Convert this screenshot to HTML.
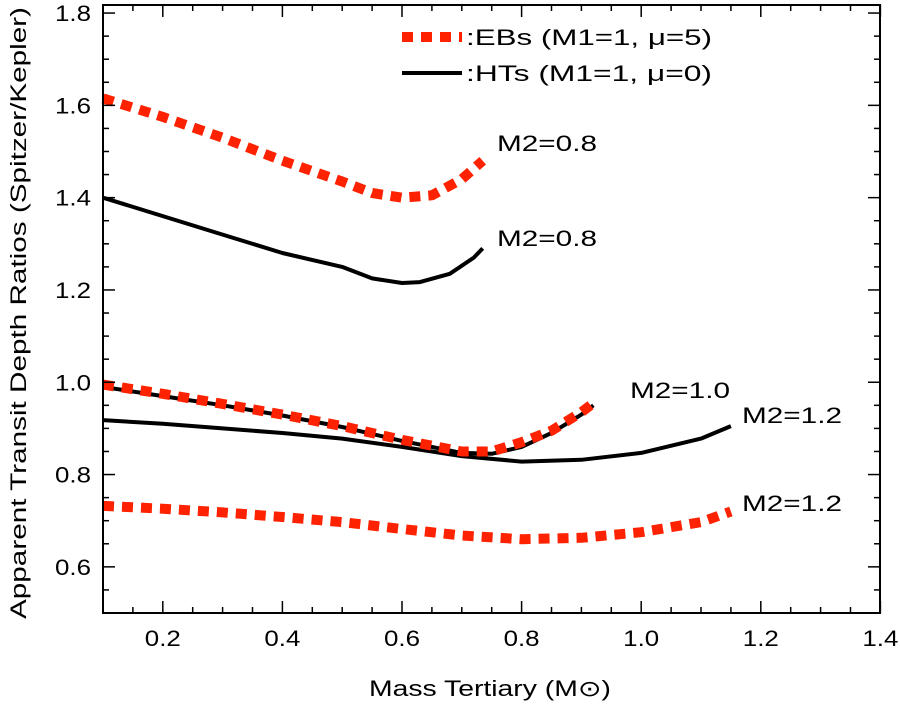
<!DOCTYPE html>
<html><head><meta charset="utf-8"><style>
body{margin:0;background:#fff}
svg text{font-family:"Liberation Sans","DejaVu Sans",sans-serif;fill:#000}
</style></head><body>
<svg id="chart" width="900" height="702" viewBox="0 0 900 702" xmlns="http://www.w3.org/2000/svg">
<g id="marks"></g>
<g id="axes"></g>
</svg>
<script>
const ebM08x=[0.1,0.2,0.3,0.4,0.5,0.55,0.6,0.65,0.7,0.735];
const ebM08y=[1.615,1.575,1.53,1.48,1.435,1.41,1.40,1.405,1.44,1.48];
const htM08x=[0.1,0.2,0.3,0.4,0.5,0.55,0.6,0.63,0.68,0.72,0.735];
const htM08y=[1.40,1.36,1.32,1.28,1.25,1.225,1.215,1.217,1.235,1.27,1.29];
const htM10x=[0.1,0.2,0.3,0.4,0.5,0.6,0.7,0.75,0.8,0.85,0.9,0.92];
const htM10y=[0.99,0.97,0.95,0.928,0.903,0.873,0.847,0.845,0.86,0.89,0.93,0.95];
const ebM10x=[0.1,0.2,0.3,0.4,0.5,0.6,0.7,0.75,0.8,0.85,0.9,0.92];
const ebM10y=[0.995,0.975,0.953,0.93,0.905,0.875,0.85,0.85,0.87,0.895,0.935,0.955];
const htM12x=[0.1,0.2,0.3,0.4,0.5,0.6,0.7,0.8,0.9,1.0,1.1,1.15];
const htM12y=[0.918,0.91,0.9,0.89,0.878,0.86,0.84,0.828,0.832,0.847,0.878,0.905];
const ebM12x=[0.1,0.2,0.3,0.4,0.5,0.6,0.7,0.8,0.9,1.0,1.1,1.15];
const ebM12y=[0.732,0.726,0.718,0.708,0.697,0.682,0.668,0.66,0.663,0.675,0.697,0.72];
const xTicks=[0.2,0.4,0.6,0.8,1.0,1.2,1.4];
const xTickLabels=["0.2","0.4","0.6","0.8","1.0","1.2","1.4"];
const yTicks=[0.6,0.8,1.0,1.2,1.4,1.6,1.8];
const yTickLabels=["0.6","0.8","1.0","1.2","1.4","1.6","1.8"];

const L=103,R=880,T=5,B=613;
function X(v){return L+(v-0.1)*598;}
function Y(v){return B-(v-0.5)*461.5;}
const NS="http://www.w3.org/2000/svg";
const marks=document.getElementById('marks'),axes=document.getElementById('axes');
function mk(tag,attrs,parent){const e=document.createElementNS(NS,tag);for(const k in attrs)e.setAttribute(k,attrs[k]);parent.appendChild(e);return e;}
function series(xs,ys,red,name){
  const d=xs.map((x,i)=>(i?'L':'M')+X(x).toFixed(1)+','+Y(ys[i]).toFixed(1)).join(' ');
  const p=mk('path',{d:d,fill:'none',stroke:red?'#ff2200':'#000','stroke-width':red?10:4,'stroke-dasharray':red?'11 8':'none','stroke-linejoin':'round'},marks);
  
  
}
series(htM08x,htM08y,false,'ht-m2-0.8-line');
series(htM10x,htM10y,false,'ht-m2-1.0-line');
series(htM12x,htM12y,false,'ht-m2-1.2-line');
series(ebM08x,ebM08y,true,'eb-m2-0.8-line');
series(ebM10x,ebM10y,true,'eb-m2-1.0-line');
series(ebM12x,ebM12y,true,'eb-m2-1.2-line');

const frame=mk('rect',{x:L,y:T,width:R-L,height:B-T,fill:'none',stroke:'#000','stroke-width':2},axes);


for(let v=0.15;v<1.4001;v+=0.05){
  const major=Math.abs(Math.round(v*10)-v*10)<0.01 && Math.round(v*10)%2===0;
  const len=major?12:6;const x=X(v);
  mk('line',{x1:x,y1:B,x2:x,y2:B-len,stroke:'#000','stroke-width':1.5},axes);
  mk('line',{x1:x,y1:T,x2:x,y2:T+len,stroke:'#000','stroke-width':1.5},axes);
}
function label(x,y,s,name,anchor,len){const a={x:x,y:y,'font-size':22,'text-anchor':anchor||'start'};if(len){a.textLength=len;a.lengthAdjust='spacingAndGlyphs';}const t=mk('text',a,axes);t.textContent=s;return t;}
xTicks.forEach((v,i)=>{
  const t=mk('text',{x:X(v),y:646,'text-anchor':'middle','font-size':22,textLength:36,lengthAdjust:'spacingAndGlyphs'},axes);
  t.textContent=xTickLabels[i];
  
  
});
for(let v=0.55;v<1.81;v+=0.05){
  const major=Math.abs(Math.round(v*10)-v*10)<0.01 && Math.round(v*10)%2===0;
  const len=major?12:6;const y=Y(v);
  mk('line',{x1:L,y1:y,x2:L+len,y2:y,stroke:'#000','stroke-width':1.5},axes);
  mk('line',{x1:R,y1:y,x2:R-len,y2:y,stroke:'#000','stroke-width':1.5},axes);
}
yTicks.forEach((v,i)=>{
  const t=mk('text',{x:91,y:Y(v)+8,'text-anchor':'end','font-size':22,textLength:36,lengthAdjust:'spacingAndGlyphs'},axes);
  t.textContent=yTickLabels[i];
  
  
});
label(490,696,'Mass Tertiary (M\u2299)','x-axis-title','middle',242);
const yt=label(0,0,'Apparent Transit Depth Ratios (Spitzer/Kepler)','y-axis-title','middle',612);
yt.setAttribute('transform','translate(26,313) rotate(-90)');
label(497,151,'M2=0.8','label-eb-m2-0.8','start',100);
label(497,246,'M2=0.8','label-ht-m2-0.8','start',100);
label(630,398,'M2=1.0','label-m2-1.0','start',100);
label(742,423,'M2=1.2','label-ht-m2-1.2','start',100);
label(742,511,'M2=1.2','label-eb-m2-1.2','start',100);
const l1=mk('line',{x1:402,y1:37,x2:462,y2:37,stroke:'#ff2200','stroke-width':10,'stroke-dasharray':'11 8'},axes);


const l2=mk('line',{x1:402,y1:73,x2:462,y2:73,stroke:'#000','stroke-width':4},axes);


label(466,45,':EBs (M1=1, \u03bc=5)','legend-eb-label','start',246);
label(466,81,':HTs (M1=1, \u03bc=0)','legend-ht-label','start',246);
</script>
</body></html>
